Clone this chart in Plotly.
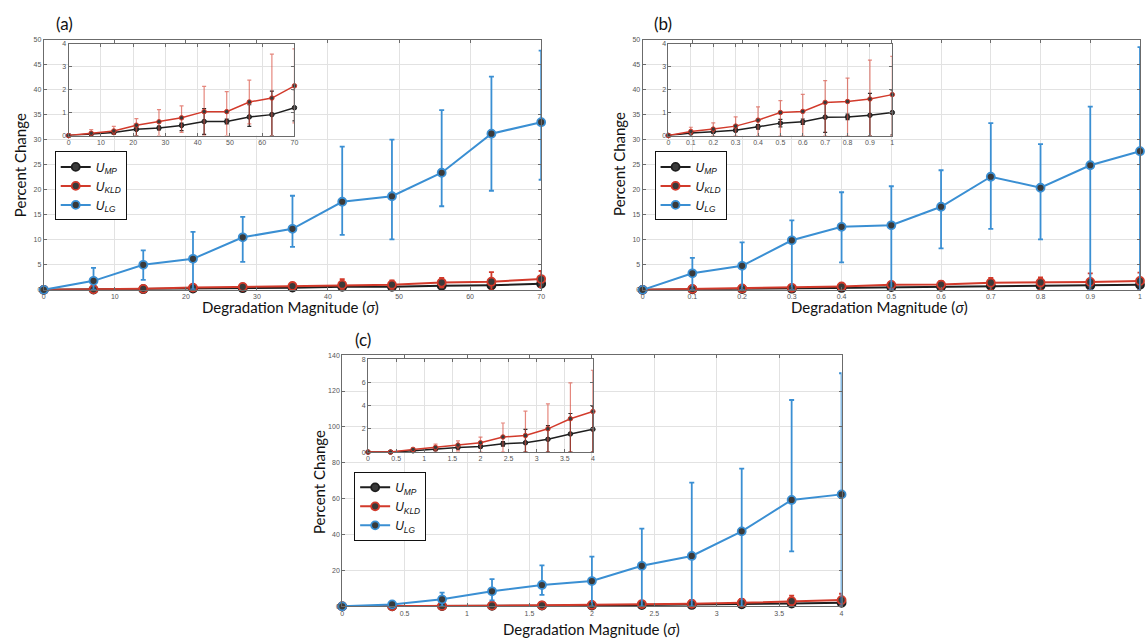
import plotly.graph_objects as go

# ---------------- data ----------------
A_X = [0, 7, 14, 21, 28, 35, 42, 49, 56, 63, 70]
A_MP = [0, 0.07, 0.13, 0.27, 0.33, 0.44, 0.61, 0.61, 0.81, 0.91, 1.21]
A_MP_PLUS = [0, 0.05, 0.07, 0.10, 0.08, 0.10, 0.56, 0.10, 0.53, 1.02, 0.79]
A_MP_MINUS = [0, 0.05, 0.07, 0.27, 0.08, 0.23, 0.56, 0.10, 0.41, 0.91, 0.57]
A_KLD = [0, 0.10, 0.20, 0.45, 0.60, 0.77, 1.04, 1.04, 1.46, 1.63, 2.16]
A_KLD_PLUS = [0, 0.16, 0.20, 0.29, 0.53, 0.52, 1.10, 0.87, 0.95, 1.91, 1.61]
A_KLD_MINUS = [0, 0.05, 0.15, 0.45, 0.60, 0.63, 1.04, 1.04, 0.95, 1.63, 1.61]
A_LG = [0, 1.8, 5.0, 6.2, 10.5, 12.2, 17.6, 18.7, 23.4, 31.2, 33.5]
A_LG_PLUS = [0, 2.6, 2.9, 5.4, 4.1, 6.6, 11.0, 11.3, 12.5, 11.4, 14.3]
A_LG_MINUS = [0, 1.8, 3.0, 6.1, 4.9, 3.6, 6.6, 8.6, 6.7, 11.4, 11.5]

B_X = [0, 0.1, 0.2, 0.3, 0.4, 0.5, 0.6, 0.7, 0.8, 0.9, 1.0]
B_MP = [0, 0.11, 0.17, 0.23, 0.38, 0.54, 0.60, 0.80, 0.81, 0.88, 1.00]
B_MP_PLUS = [0, 0.04, 0.05, 0.06, 0.10, 0.16, 0.12, 0.66, 0.12, 0.95, 0.98]
B_MP_MINUS = [0, 0.04, 0.05, 0.06, 0.10, 0.16, 0.12, 0.66, 0.12, 0.88, 0.98]
B_KLD = [0, 0.18, 0.28, 0.41, 0.67, 1.00, 1.05, 1.44, 1.48, 1.59, 1.78]
B_KLD_PLUS = [0, 0.18, 0.27, 0.40, 0.58, 0.52, 0.74, 0.95, 1.02, 1.69, 1.66]
B_KLD_MINUS = [0, 0.13, 0.28, 0.41, 0.67, 1.00, 1.05, 1.44, 1.48, 1.59, 1.78]
B_LG = [0, 3.3, 4.8, 9.9, 12.6, 12.9, 16.6, 22.6, 20.4, 24.9, 27.7]
B_LG_PLUS = [0, 3.1, 4.7, 4.0, 6.9, 7.8, 7.3, 10.7, 8.7, 11.7, 20.8]
B_LG_MINUS = [0, 3.3, 4.8, 9.9, 7.1, 12.8, 8.3, 10.4, 10.3, 24.9, 27.7]

C_X = [0, 0.4, 0.8, 1.2, 1.6, 2.0, 2.4, 2.8, 3.2, 3.6, 4.0]
C_MP = [0, 0, 0.11, 0.26, 0.40, 0.48, 0.71, 0.80, 1.10, 1.56, 1.96]
C_MP_PLUS = [0, 0, 0.05, 0.08, 0.10, 0.12, 0.20, 1.16, 1.17, 1.76, 1.98]
C_MP_MINUS = [0, 0, 0.05, 0.08, 0.10, 0.12, 0.20, 0.80, 1.10, 1.56, 1.96]
C_KLD = [0, 0, 0.23, 0.40, 0.60, 0.80, 1.30, 1.42, 2.00, 2.87, 3.49]
C_KLD_PLUS = [0, 0, 0.11, 0.28, 0.36, 0.48, 1.20, 2.10, 2.14, 3.09, 3.55]
C_KLD_MINUS = [0, 0, 0.13, 0.30, 0.50, 0.80, 1.30, 1.42, 2.00, 2.87, 3.49]
C_LG = [0, 1.1, 3.9, 8.4, 11.9, 14.1, 22.6, 28.1, 41.8, 59.3, 62.4]
C_LG_PLUS = [0, 0.9, 3.8, 6.8, 10.9, 13.6, 20.7, 40.9, 34.9, 55.7, 67.5]
C_LG_MINUS = [0, 1.1, 3.9, 5.1, 5.5, 14.1, 22.6, 28.1, 41.8, 28.7, 62.4]

NAMES = ["<i>U</i><sub><i>MP</i></sub>", "<i>U</i><sub><i>KLD</i></sub>", "<i>U</i><sub><i>LG</i></sub>"]
PANEL_LABELS = ["(a)", "(b)", "(c)"]
Y_TITLE = "Percent Change"
X_TITLE = "Degradation Magnitude (<i>σ</i>)"

# ---------------- style ----------------
W, H = 1145, 642
COL_MP = "#1e1e1e"
COL_KLD = "#d23a2b"
COL_LG = "#3a8fd3"
FILL = "#3a3a3a"
ERR_KLD_IN = "rgba(215,70,55,0.65)"


def dx(x0, x1):
    return [x0 / W, x1 / W]


def dy(top, bottom):
    return [1 - bottom / H, 1 - top / H]


fig = go.Figure()


def main_tr(x, y, plus, minus, color, name, xa, ya, legend):
    return go.Scatter(
        x=x, y=y, mode="lines+markers", name=name,
        line=dict(color=color, width=2),
        marker=dict(size=8, color=FILL, line=dict(color=color, width=1.8)),
        error_y=dict(type="data", symmetric=False, array=plus, arrayminus=minus,
                     color=color, thickness=1.8, width=2.5),
        xaxis=xa, yaxis=ya, legend=legend, showlegend=True, cliponaxis=False,
    )


def inset_tr(x, y, plus, minus, color, ecolor, xa, ya):
    return go.Scatter(
        x=x, y=y, mode="lines+markers",
        line=dict(color=color, width=1.5),
        marker=dict(size=4.5, color=FILL, line=dict(color=color, width=1)),
        error_y=dict(type="data", symmetric=False, array=plus, arrayminus=minus,
                     color=ecolor, thickness=1.2, width=2),
        xaxis=xa, yaxis=ya, showlegend=False, cliponaxis=False,
    )


panels = [
    ("x", "y", "x2", "y2", "legend", A_X,
     (A_MP, A_MP_PLUS, A_MP_MINUS), (A_KLD, A_KLD_PLUS, A_KLD_MINUS), (A_LG, A_LG_PLUS, A_LG_MINUS)),
    ("x3", "y3", "x4", "y4", "legend2", B_X,
     (B_MP, B_MP_PLUS, B_MP_MINUS), (B_KLD, B_KLD_PLUS, B_KLD_MINUS), (B_LG, B_LG_PLUS, B_LG_MINUS)),
    ("x5", "y5", "x6", "y6", "legend3", C_X,
     (C_MP, C_MP_PLUS, C_MP_MINUS), (C_KLD, C_KLD_PLUS, C_KLD_MINUS), (C_LG, C_LG_PLUS, C_LG_MINUS)),
]

for xm, ym, xi, yi, lg, X, mp, kld, lgd in panels:
    fig.add_trace(main_tr(X, mp[0], mp[1], mp[2], COL_MP, NAMES[0], xm, ym, lg))
    fig.add_trace(main_tr(X, kld[0], kld[1], kld[2], COL_KLD, NAMES[1], xm, ym, lg))
    fig.add_trace(main_tr(X, lgd[0], lgd[1], lgd[2], COL_LG, NAMES[2], xm, ym, lg))
    fig.add_trace(inset_tr(X, mp[0], mp[1], mp[2], COL_MP, "#2a2a2a", xi, yi))
    fig.add_trace(inset_tr(X, kld[0], kld[1], kld[2], COL_KLD, ERR_KLD_IN, xi, yi))


def axis(domain, rng, dtick, anchor):
    return dict(
        domain=domain, range=rng, dtick=dtick, tick0=0, anchor=anchor,
        showline=True, mirror="ticks", linecolor="#6b6b6b", linewidth=1,
        ticks="inside", ticklen=3, tickcolor="#6b6b6b",
        showgrid=True, gridcolor="#e2e2e2", gridwidth=1, zeroline=False,
        tickfont=dict(size=7, color="#555555", family="Liberation Sans"),
        fixedrange=True,
    )


layout_axes = dict(
    xaxis=axis(dx(42, 542), [0, 70], 10, "y"),
    yaxis=axis(dy(36, 289), [0, 50], 5, "x"),
    xaxis2=axis(dx(67, 294), [0, 70], 10, "y2"),
    yaxis2=axis(dy(40, 133), [0, 4], 1, "x2"),
    xaxis3=axis(dx(644, 1144), [0, 1], 0.1, "y3"),
    yaxis3=axis(dy(36, 289), [0, 50], 5, "x3"),
    xaxis4=axis(dx(670, 895), [0, 1], 0.1, "y4"),
    yaxis4=axis(dy(40, 133), [0, 4], 1, "x4"),
    xaxis5=axis(dx(342, 844), [0, 4], 0.5, "y5"),
    yaxis5=axis(dy(355, 609), [0, 140], 20, "x5"),
    xaxis6=axis(dx(368, 594), [0, 4], 0.5, "y6"),
    yaxis6=axis(dy(359, 453), [0, 8], 2, "x6"),
)


def legend(x, y):
    return dict(
        x=x / W, y=1 - y / H, xanchor="left", yanchor="top",
        bordercolor="#111111", borderwidth=1, bgcolor="white",
        font=dict(size=12, family="Liberation Sans", color="#111111"),
        tracegroupgap=0, itemwidth=30,
    )


annotations = []
TF = "Lato"


def ann(text, px_, py_, size, angle=0):
    return dict(text=text, x=px_ / W, y=1 - py_ / H, xref="paper", yref="paper",
                xanchor="center", yanchor="middle", showarrow=False, textangle=angle,
                font=dict(size=size, family=TF, color="#111"))


for lbl, (px_, py_) in zip(PANEL_LABELS, [(63, 20), (664, 20), (363, 339)]):
    annotations.append(ann(lbl, px_, py_, 17))
for (px_, py_) in [(18, 163), (620, 162), (318, 483)]:
    annotations.append(ann(Y_TITLE, px_, py_, 15, -90))
for (px_, py_) in [(290, 306), (882, 306), (593, 632)]:
    annotations.append(ann(X_TITLE, px_, py_, 15))

fig.update_layout(
    width=W, height=H, margin=dict(l=0, r=0, t=0, b=0),
    paper_bgcolor="white", plot_bgcolor="white",
    legend=legend(53, 149), legend2=legend(656, 149), legend3=legend(354, 473),
    annotations=annotations,
    **layout_axes,
)

fig.write_html("out.html")
